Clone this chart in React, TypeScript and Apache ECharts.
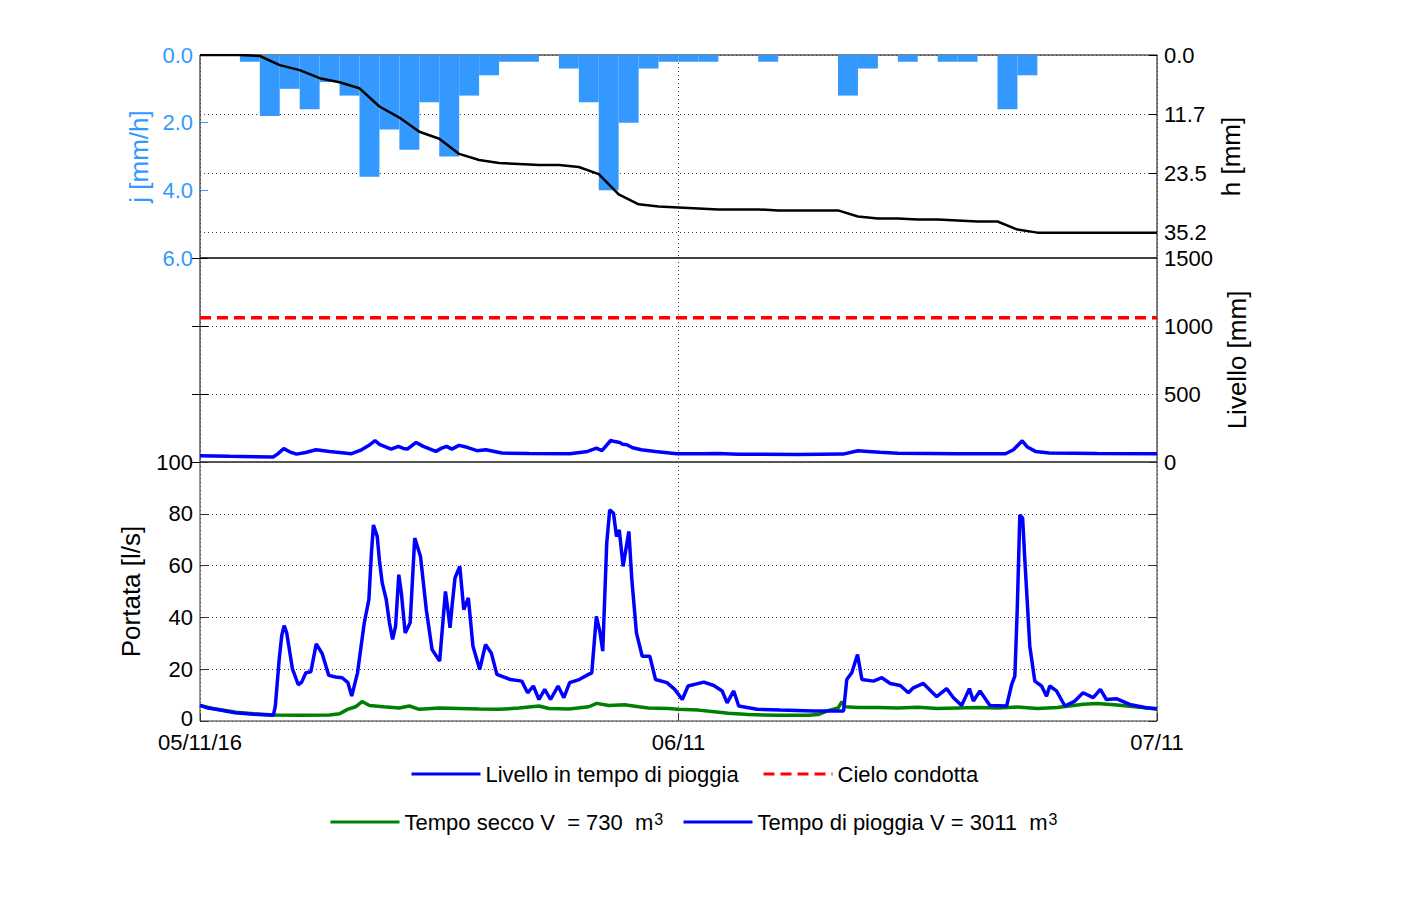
import React, { useEffect, useRef } from 'react';
import * as echarts from 'echarts';

// ---------- DATA ----------
const xTickHours = [0, 24, 48];
const xTickLabels = ['05/11/16', '06/11', '07/11'];

// hourly rainfall intensity j [mm/h], index = hour from 05/11/16 00:00
const rainIntensity = [
  0, 0, 0.2, 1.8, 1.0, 1.6, 0.8, 1.2, 3.6, 2.2, 2.8, 1.4, 3.0, 1.2, 0.6, 0.2,
  0.2, 0, 0.4, 1.4, 4.0, 2.0, 0.4, 0.2, 0.2, 0.2, 0, 0, 0.2, 0, 0, 0,
  1.2, 0.4, 0, 0.2, 0, 0.2, 0.2, 0, 1.6, 0.6, 0, 0, 0, 0, 0, 0,
];

// level in rain weather [mm]  ([hour, value])
const levelRain = [
  [0, 46], [1.5, 42], [3.67, 37], [3.9, 60], [4.2, 98], [4.5, 75], [4.84, 58], [5.3, 70],
  [5.82, 90], [6.5, 78], [7.6, 61], [8.1, 90], [8.5, 125], [8.78, 158], [9.0, 130],
  [9.59, 95], [9.95, 115], [10.2, 100], [10.4, 95], [10.84, 144], [11.2, 115], [11.83, 78],
  [12.1, 100], [12.37, 115], [12.63, 95], [12.99, 122], [13.4, 108], [13.89, 83],
  [14.34, 90], [15.14, 66], [16.5, 62], [18.55, 61], [19.44, 78], [19.89, 102],
  [20.16, 83], [20.6, 158], [20.8, 150], [21.05, 144], [21.2, 130], [21.41, 127],
  [21.7, 105], [22.13, 90], [22.84, 78], [23.91, 61], [25.1, 61], [26, 62], [27, 57],
  [30, 55], [32.26, 58], [33.0, 83], [33.5, 78], [34.1, 71], [35, 65], [38, 60],
  [40.4, 61], [40.8, 90], [41.24, 156], [41.5, 110], [41.9, 78], [42.6, 66], [45, 63], [48, 61],
];

// pipe crown level [mm]
const pipeCrown = [[0, 1060], [48, 1060]];

// flow in dry weather [l/s]
const flowDry = [
  [0, 6], [0.8, 4.6], [1.8, 3.4], [2.7, 2.8], [3.7, 2.3], [5, 2.2], [6.5, 2.3], [7.0, 2.8],
  [7.4, 4.5], [7.8, 5.5], [8.13, 7.5], [8.5, 6], [9.2, 5.5], [10, 5], [10.5, 5.8], [11, 4.5],
  [12, 5], [13, 4.8], [14, 4.6], [15, 4.5], [16, 5], [17, 5.8], [17.5, 4.8], [18.5, 4.6],
  [19.5, 5.5], [19.9, 6.8], [20.5, 6], [21.3, 6.3], [22, 5.5], [22.5, 5], [23.5, 4.8],
  [24, 4.5], [25, 4.2], [25.8, 3.6], [26.5, 3], [27.5, 2.5], [29, 2.2], [30.5, 2.2],
  [31, 2.5], [31.5, 4], [32.0, 5], [32.2, 7.5], [32.35, 5.5], [33, 5.2], [34, 5.2],
  [35, 5], [36, 5.3], [37, 4.8], [38, 5], [39, 5.2], [40, 5], [41, 5.4], [42, 4.8],
  [43, 5.2], [44.3, 6.5], [45, 6.8], [46, 6.2], [47, 5.4], [48, 4.6],
];

// flow in rain weather [l/s]
const flowRain = [
  [0, 6], [0.4, 5], [0.8, 4.5], [1.76, 3.2], [2.7, 2.6], [3.68, 2.2], [3.78, 5.8], [3.97, 23.7],
  [4.1, 33], [4.22, 36.8], [4.35, 34], [4.64, 20], [4.93, 14], [5.1, 15], [5.31, 18.6],
  [5.56, 19], [5.83, 29.8], [6.13, 26], [6.46, 17.6], [6.8, 17], [7.13, 16.7], [7.42, 14.8],
  [7.61, 9.6], [7.9, 18.6], [8.24, 37.9], [8.47, 46.9], [8.6, 65], [8.7, 75.7], [8.89, 71.2],
  [9.0, 62], [9.14, 53.3], [9.34, 46.9], [9.5, 38], [9.66, 31.5], [9.81, 36.6], [9.97, 56.5],
  [10.1, 49.4], [10.29, 34], [10.54, 37.9], [10.77, 70.6], [11.06, 63.5], [11.35, 43],
  [11.64, 27.6], [12.02, 23.1], [12.31, 50], [12.45, 42], [12.54, 36], [12.65, 45],
  [12.79, 55.2], [13.03, 59.7], [13.23, 43], [13.46, 47.5], [13.69, 28.9], [14.03, 19.9],
  [14.32, 29.5], [14.61, 26.3], [14.89, 18], [15.57, 16], [16.14, 15.4], [16.43, 10.9],
  [16.72, 13.5], [17.0, 8.3], [17.29, 12.2], [17.58, 8.3], [17.96, 13.5], [18.25, 9],
  [18.54, 14.8], [19.02, 16], [19.49, 18], [19.65, 18.6], [19.88, 40.4], [20.07, 34],
  [20.2, 27], [20.4, 68.7], [20.55, 81.5], [20.74, 80.2], [20.89, 71.2], [21.03, 73.8],
  [21.22, 59.7], [21.51, 73.2], [21.66, 54.6], [21.89, 34], [22.18, 25], [22.56, 25],
  [22.85, 16], [23.42, 14.8], [23.81, 12.2], [24.19, 8.3], [24.48, 13.5], [25.27, 15],
  [25.77, 13.7], [26.19, 11.6], [26.44, 7], [26.77, 11.6], [27.02, 5.8], [27.94, 4.5],
  [29.1, 4.2], [30.77, 3.9], [32.28, 3.9], [32.44, 16], [32.69, 18.6], [32.98, 25.7],
  [33.2, 16], [33.78, 15.4], [34.2, 16.7], [34.62, 14.5], [35.12, 13.7], [35.53, 10.9],
  [35.78, 12.8], [36.28, 14.5], [36.95, 9.4], [37.45, 12.5], [37.79, 9], [38.2, 6],
  [38.59, 12.5], [38.79, 7.7], [39.12, 11.6], [39.62, 6], [40.46, 5.8], [40.71, 14.1],
  [40.87, 17.3], [40.99, 43], [41.12, 79.6], [41.26, 78.3], [41.37, 62.3], [41.62, 28.9],
  [41.87, 15.4], [42.21, 13.5], [42.46, 9.6], [42.62, 13.5], [42.96, 11.6], [43.38, 5.8],
  [43.88, 7.7], [44.29, 10.9], [44.8, 9], [45.16, 12.2], [45.46, 8.3], [45.96, 8.6],
  [46.63, 6.4], [47.46, 5.1], [48, 4.7],
];

const rainTotal = 35.2; // mm, labelled max of h axis
const volumeDry = 730;
const volumeRain = 3011;

// ---------- CHART ----------
const FONT = "'Liberation Sans', Arial, Helvetica, sans-serif";
const BLUE_LIGHT = '#3399FF';
const GRID_LINE = { show: true, lineStyle: { type: [1, 3] as any, color: '#444', width: 1 } };
const TRANSPARENT = 'rgba(0,0,0,0)';

export default function App() {
  const ref = useRef<HTMLDivElement>(null);

  useEffect(() => {
    if (!ref.current) return;
    const chart = echarts.init(ref.current, null, { renderer: 'svg' });

    const rainBars = rainIntensity
      .map((v, i) => [i, v])
      .filter((d) => d[1] > 0);
    const cumulative: number[][] = [[0, 0]];
    let c = 0;
    rainIntensity.forEach((v, i) => {
      c += v;
      cumulative.push([i + 1, Math.round(c * 100) / 100]);
    });

    const hInterval = rainTotal / 3;
    const hMax = (rainTotal * 8) / 7;

    const xBase = (gridIndex: number, showLabels: boolean) => ({
      type: 'value',
      gridIndex,
      min: 0,
      max: 48,
      interval: 24,
      axisLine: { show: false },
      axisTick: { show: showLabels, inside: true, length: 8, lineStyle: { color: '#333' } },
      splitLine: GRID_LINE,
      axisLabel: showLabels
        ? {
            show: true,
            fontSize: 22,
            lineHeight: 16,
            fontFamily: FONT,
            color: '#000',
            margin: 13,
            showMinLabel: true,
            showMaxLabel: true,
            formatter: (v: number) => {
              const i = xTickHours.indexOf(v);
              return i >= 0 ? xTickLabels[i] : '';
            },
          }
        : { show: false },
    });

    const labelStyle = { fontSize: 22, lineHeight: 16, fontFamily: FONT, color: '#000', margin: 7 };
    const nameStyle = { fontSize: 26, fontFamily: FONT, color: '#000' };
    const plain = (v: number) => String(Math.round(v));

    const legendBase = (name: string, left: number, top: number) => ({
      show: true,
      data: [name],
      left,
      top,
      padding: 0,
      itemWidth: 69,
      itemHeight: 12,
      selectedMode: false,
      itemStyle: { color: TRANSPARENT, borderColor: TRANSPARENT, borderWidth: 0 },
      lineStyle: { width: 3 },
      textStyle: {
        fontSize: 22,
        fontFamily: FONT,
        color: '#000',
        rich: {
          sup: { fontSize: 16, fontFamily: FONT, color: '#000', verticalAlign: 'top', padding: [0, 0, 0, 1] },
        },
      },
      formatter: (n: string) => {
        if (n === 'Tempo secco') return `Tempo secco V  = ${volumeDry}  m{sup|3}`;
        if (n === 'Tempo di pioggia') return `Tempo di pioggia V = ${volumeRain}  m{sup|3}`;
        return n;
      },
    });

    const option: any = {
      animation: false,
      backgroundColor: '#fff',
      textStyle: { fontFamily: FONT },
      grid: [
        { left: 200, right: 251, top: 55, height: 203, show: true, borderColor: '#000', borderWidth: 1, containLabel: false, outerBoundsMode: 'none' },
        { left: 200, right: 251, top: 258, height: 204, show: true, borderColor: '#000', borderWidth: 1, containLabel: false, outerBoundsMode: 'none' },
        { left: 200, right: 251, top: 462, height: 259, show: true, borderColor: '#333', borderWidth: 1, containLabel: false, outerBoundsMode: 'none' },
      ],
      xAxis: [xBase(0, false), xBase(1, false), xBase(2, true)],
      yAxis: [
        {
          type: 'value', gridIndex: 0, position: 'left', inverse: true, min: 0, max: 6, interval: 2,
          axisLine: { show: false },
          axisTick: { show: true, inside: true, length: 8, lineStyle: { color: BLUE_LIGHT } },
          splitLine: { show: false },
          axisLabel: { ...labelStyle, color: BLUE_LIGHT, formatter: (v: number) => v.toFixed(1) },
          name: 'j [mm/h]', nameLocation: 'middle', nameGap: 47,
          nameTextStyle: { ...nameStyle, color: BLUE_LIGHT },
        },
        {
          type: 'value', gridIndex: 0, position: 'right', inverse: true, min: 0, max: hMax, interval: hInterval,
          axisLine: { show: false },
          axisTick: { show: true, inside: true, length: 8, lineStyle: { color: '#000' } },
          splitLine: GRID_LINE,
          axisLabel: {
            ...labelStyle,
            showMaxLabel: false,
            formatter: (v: number) => (v > rainTotal + 0.01 ? '' : v.toFixed(1)),
          },
          name: 'h [mm]', nameLocation: 'middle', nameGap: 53, nameTextStyle: nameStyle,
        },
        {
          type: 'value', gridIndex: 1, position: 'right', min: 0, max: 1500, interval: 500,
          axisLine: { show: false },
          axisTick: { show: true, inside: true, length: 8, lineStyle: { color: '#000' } },
          splitLine: GRID_LINE,
          axisLabel: { ...labelStyle, formatter: plain },
          name: 'Livello [mm]', nameLocation: 'middle', nameGap: 60, nameTextStyle: nameStyle,
        },
        {
          type: 'value', gridIndex: 1, position: 'left', min: 0, max: 1500, interval: 500,
          axisLine: { show: false },
          axisTick: { show: true, inside: true, length: 8, lineStyle: { color: '#000' } },
          splitLine: { show: false },
          axisLabel: { show: false },
        },
        {
          type: 'value', gridIndex: 2, position: 'left', min: 0, max: 100, interval: 20,
          axisLine: { show: false },
          axisTick: { show: true, inside: true, length: 8, lineStyle: { color: '#333' } },
          splitLine: GRID_LINE,
          axisLabel: {
            ...labelStyle,
            showMaxLabel: true,
            showMinLabel: true,
            formatter: (v: number) => (v === 0 ? '{lift|0}' : plain(v)),
            rich: { lift: { fontSize: 22, fontFamily: FONT, color: '#000', lineHeight: 14, padding: [0, 0, 5, 0] } },
          },
          name: 'Portata [l/s]', nameLocation: 'middle', nameGap: 56, nameTextStyle: nameStyle,
        },
        {
          type: 'value', gridIndex: 2, position: 'right', min: 0, max: 100, interval: 20,
          axisLine: { show: false },
          axisTick: { show: true, inside: true, length: 8, lineStyle: { color: '#333' } },
          splitLine: { show: false },
          axisLabel: { show: false },
        },
      ],
      legend: [
        legendBase('Livello in tempo di pioggia', 410, 763),
        legendBase('Cielo condotta', 762, 763),
        legendBase('Tempo secco', 329, 811),
        legendBase('Tempo di pioggia', 682, 811),
      ],
      series: [
        {
          type: 'custom',
          name: 'j',
          xAxisIndex: 0,
          yAxisIndex: 0,
          data: rainBars,
          encode: { x: 0, y: 1 },
          clip: true,
          z: 2,
          renderItem: (params: any, api: any) => {
            const x0 = api.value(0);
            const v = api.value(1);
            const p0 = api.coord([x0, 0]);
            const p1 = api.coord([x0 + 1, v]);
            return {
              type: 'rect',
              shape: {
                x: p0[0],
                y: Math.min(p0[1], p1[1]),
                width: p1[0] - p0[0],
                height: Math.abs(p1[1] - p0[1]),
              },
              style: { fill: BLUE_LIGHT },
            };
          },
        },
        {
          type: 'line',
          name: 'h',
          xAxisIndex: 0,
          yAxisIndex: 1,
          data: cumulative,
          symbol: 'none',
          z: 3,
          lineStyle: { color: '#000', width: 2.5 },
          itemStyle: { color: '#000' },
        },
        {
          type: 'line',
          name: 'Livello in tempo di pioggia',
          xAxisIndex: 1,
          yAxisIndex: 2,
          data: levelRain,
          symbol: 'none',
          z: 3,
          lineStyle: { color: '#0000FF', width: 3.5 },
          itemStyle: { color: '#0000FF' },
        },
        {
          type: 'line',
          name: 'Cielo condotta',
          xAxisIndex: 1,
          yAxisIndex: 2,
          data: pipeCrown,
          symbol: 'none',
          z: 3,
          lineStyle: { color: '#FF0000', width: 3.5, type: [11, 6] },
          itemStyle: { color: '#FF0000' },
        },
        {
          type: 'line',
          name: 'Tempo secco',
          xAxisIndex: 2,
          yAxisIndex: 4,
          data: flowDry,
          symbol: 'none',
          z: 3,
          lineStyle: { color: '#008000', width: 3.5 },
          itemStyle: { color: '#008000' },
        },
        {
          type: 'line',
          name: 'Tempo di pioggia',
          xAxisIndex: 2,
          yAxisIndex: 4,
          data: flowRain,
          symbol: 'none',
          z: 4,
          lineStyle: { color: '#0000FF', width: 3.5 },
          itemStyle: { color: '#0000FF' },
        },
      ],
    };

    chart.setOption(option);
    return () => chart.dispose();
  }, []);

  return (
    <div
      ref={ref}
      style={{ position: 'absolute', left: 0, top: 0, width: 1408, height: 898, background: '#fff' }}
    />
  );
}
